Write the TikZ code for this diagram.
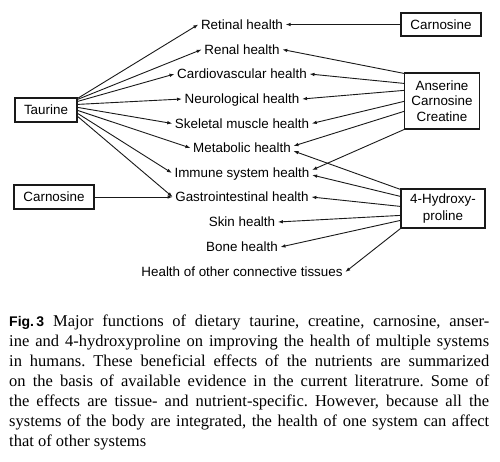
\documentclass[tikz,border=0pt]{standalone}
\usepackage{fontspec}
\setmainfont{Liberation Serif}
\setsansfont{Liberation Sans}
\usetikzlibrary{arrows.meta,calc}
\begin{document}
\frenchspacing
\begin{tikzpicture}[x=1pt,y=-1pt,
  lbl/.style={font=\fontsize{13.4}{15.6}\selectfont\sffamily, inner xsep=2.5pt, inner ysep=0pt, text height=9.6pt, text depth=0pt},
  box/.style={draw=black!90, line width=1.2pt, font=\fontsize{13.4}{15.6}\selectfont\sffamily, inner sep=0pt, align=center},
  arr/.style={-{Latex[length=5pt,width=3.6pt]}, line width=0.9pt, draw=black!90},
]
\useasboundingbox[fill=white] (0,0) rectangle (500,461);
% source boxes
\node[box, minimum width=62pt, minimum height=24pt] (taurine) at (46,110) {Taurine};
\node[box, minimum width=80pt, minimum height=23pt] (carnT) at (441,24.5) {Carnosine};
\node[box, minimum width=75pt, minimum height=56pt] (anser) at (442,101) {Anserine\\Carnosine\\Creatine};
\node[box, minimum width=80pt, minimum height=24pt] (carnL) at (54,197) {Carnosine};
\node[box, minimum width=84pt, minimum height=39pt, font=\fontsize{13.4}{16.6}\selectfont\sffamily] (hyd) at (443,208.5) {4-Hydroxy-\\proline};
% labels
\node[lbl] (retinal) at (242,24.5) {Retinal health};
\node[lbl] (renal) at (242,49.5) {Renal health};
\node[lbl] (cardio) at (242,74) {Cardiovascular health};
\node[lbl] (neuro) at (242,99) {Neurological health};
\node[lbl] (skel) at (242,123.5) {Skeletal muscle health};
\node[lbl] (metab) at (242,148) {Metabolic health};
\node[lbl] (immune) at (242,173) {Immune system health};
\node[lbl] (gastro) at (242,197) {Gastrointestinal health};
\node[lbl] (skin) at (242,222) {Skin health};
\node[lbl] (bone) at (242,247) {Bone health};
\node[lbl] (conn) at (242,272) {Health of other connective tissues};
% taurine arrows
\draw[arr] ($(taurine.north east)+(0,1)$) -- (retinal.west);
\draw[arr] ($(taurine.north east)+(0,2)$) -- (renal.west);
\draw[arr] ($(taurine.north east)+(0,4)$) -- (cardio.west);
\draw[arr] ($(taurine.north east)+(0,7)$) -- (neuro.west);
\draw[arr] ($(taurine.north east)+(0,10)$) -- (skel.west);
\draw[arr] ($(taurine.north east)+(0,13)$) -- (metab.west);
\draw[arr] ($(taurine.north east)+(0,16)$) -- (immune.west);
\draw[arr] ($(taurine.north east)+(0,19)$) -- (gastro.west);
% carnosine arrows
\draw[arr] (carnT.west) -- (retinal.east);
\draw[arr] (carnL.east) -- (gastro.west);
% anserine arrows
\draw[arr] ($(anser.north west)+(0,1)$) -- (renal.east);
\draw[arr] ($(anser.north west)+(0,11)$) -- (cardio.east);
\draw[arr] ($(anser.north west)+(0,18)$) -- (neuro.east);
\draw[arr] ($(anser.north west)+(0,29)$) -- (skel.east);
\draw[arr] ($(anser.north west)+(0,39)$) -- ([yshift=2pt]metab.east);
\draw[arr] (anser.south west) -- ([yshift=3pt]immune.east);
% hydroxyproline arrows
\draw[arr] ($(hyd.north west)+(0,1)$) -- ([yshift=-3pt]metab.east);
\draw[arr] ($(hyd.north west)+(0,8)$) -- ([yshift=-2pt]immune.east);
\draw[arr] ($(hyd.north west)+(0,18)$) -- (gastro.east);
\draw[arr] ($(hyd.north west)+(0,27)$) -- (skin.east);
\draw[arr] ($(hyd.north west)+(0,32)$) -- (bone.east);
\draw[arr] (hyd.south west) -- (conn.east);
% caption
\node[anchor=base west, inner sep=0pt] (cap) at (9,326.5) {\parbox[t]{480pt}{\fontsize{16.5}{20}\selectfont
\makebox[480pt][s]{{\sffamily\bfseries\fontsize{14}{20}\selectfont Fig.\,3}\hspace{9pt}Major functions of dietary taurine, creatine, carnosine, anser-}\\
\makebox[480pt][s]{ine and 4-hydroxyproline on improving the health of multiple systems}\\
\makebox[480pt][s]{in humans. These beneficial effects of the nutrients are summarized}\\
\makebox[480pt][s]{on the basis of available evidence in the current literatrure. Some of}\\
\makebox[480pt][s]{the effects are tissue- and nutrient-specific. However, because all the}\\
\makebox[480pt][s]{systems of the body are integrated, the health of one system can affect}\\
that of other systems}};
\end{tikzpicture}
\end{document}
